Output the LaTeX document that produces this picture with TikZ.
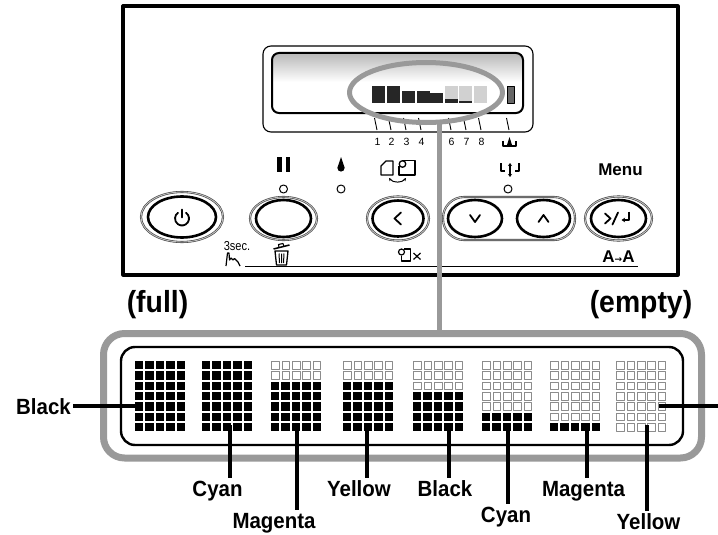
\documentclass[tikz,border=0pt]{standalone}
\usepackage{fontspec}
\setmainfont{Liberation Sans}
\newfontfamily\labfont[FakeStretch=0.93]{Liberation Sans}
\newfontfamily\smallcond[FakeStretch=0.85]{Liberation Sans}
\newfontfamily\djv{DejaVu Sans}
\usetikzlibrary{arrows.meta,calc,shapes.geometric}
\definecolor{ringgray}{gray}{0.6}
\definecolor{emptygray}{gray}{0.55}
\definecolor{bardark}{gray}{0.15}
\definecolor{barlight}{gray}{0.82}
\begin{document}
\begin{tikzpicture}[x=1pt,y=-1pt,line join=round,
  lab/.style={font=\labfont\bfseries\fontsize{22}{24}\selectfont, inner sep=2pt, text height=16pt, text depth=0pt},
  bigl/.style={font=\labfont\bfseries\fontsize{30.5}{34}\selectfont, inner sep=0pt, anchor=base},
  conn/.style={line width=3.3pt},
  connw/.style={line width=4.6pt},
  fullsq/.style={fill=black},
  emptysq/.style={draw=emptygray, line width=0.6pt},
  btnout/.style={draw=black!75, line width=0.6pt, double=black!25, double distance=0.9pt},
  btnin/.style={draw=black, line width=2.6pt},
  glyph/.style={line width=1.8pt, line cap=round},
  icon/.style={line width=1.3pt},
  gline/.style={draw=ringgray, line width=5pt},
]
\useasboundingbox (0,0) rectangle (718,535);
\fill[white] (0,0) rectangle (718,535);

% ---------- control panel ----------
\draw[line width=3.2pt] (123,6) rectangle (678,275);

% LCD
\draw[line width=1.1pt, rounded corners=8pt] (263,46) rectangle (533,132);
\begin{scope}
  \clip[rounded corners=7pt] (272,53) rectangle (523,113);
  \shade[top color=black!28, bottom color=white] (272,53) rectangle (523,82);
\end{scope}
\draw[line width=2pt, rounded corners=7pt] (272,53) rectangle (523,113);

% bars
\foreach \bx/\tp in {372/86,387/86,402/91,417/91,430/93.5}
  \fill[bardark] (\bx,\tp) rectangle (\bx+12.5,103.3);
\foreach \bx in {445,459,474}
  \fill[barlight] (\bx,86) rectangle (\bx+12.5,103.3);
\fill[bardark] (445,99) rectangle (457.5,103.3);
\fill[bardark] (459,101) rectangle (471.5,103.3);
\filldraw[fill=black!60, draw=black, line width=0.8pt] (507,86) rectangle (514,103.5);

% ticks and numbers
\foreach \tx/\lbl in {376/1,390/2,405/3,420/4,450/6,465/7,480/8}{
  \draw[line width=0.9pt] (\tx-1.5,118) -- (\tx+1,130);
  \node[font=\fontsize{10.5}{10.5}\selectfont, inner sep=0pt] at (\tx+1.5,141.5) {\lbl};
}
\draw[line width=0.9pt] (506.5,118) -- (509,130);
% maintenance tank symbol
\draw[line width=1.2pt] (503,140.5) -- (503,146) -- (516,146) -- (516,140.5);
\fill (509.5,137) -- (507,145) -- (512,145) -- cycle;

% icons row
\fill (277,157) rectangle (281.5,172);
\fill (285.5,157) rectangle (290,172);
\fill (341,157) -- (337.5,167.5) -- (344.5,167.5) -- cycle;
\fill (341,168) circle [radius=3.6];
% paper source icon
\draw[icon] (386,161) -- (393,161) -- (393,175) -- (381,175) -- (381,166) -- cycle;
\draw[icon] (402,160.5) -- (415,160.5) -- (415,175) -- (399,175) -- (399,166);
\draw[icon] (402.5,164) circle [radius=3.3];
\draw[line width=1pt, {Stealth[length=3pt,width=3pt]}-{Stealth[length=3pt,width=3pt]}] (389,178) .. controls (393,183) and (402,183) .. (406,178);
% cutter/feed icon
\draw[line width=1.4pt] (501,163) -- (501,171) -- (505,171);
\draw[line width=1.4pt] (519,163) -- (519,171) -- (515,171);
\draw[line width=1.2pt, {Stealth[length=3pt,width=4pt]}-{Stealth[length=3pt,width=4pt]}] (510,163) -- (510,177);
\node[font=\bfseries\fontsize{17}{17}\selectfont, inner sep=0pt] (menu) at (620.5,170) {Menu};

% LEDs
\foreach \lx in {283.5,341,508} \draw[line width=1pt] (\lx,189) circle [radius=4];

% buttons
\draw[btnout] (182,217) ellipse [x radius=41, y radius=25];
\draw[btnin] (182,217) ellipse [x radius=34, y radius=20.5];
\draw[glyph] (182,218.5) ++(-55:7) arc[start angle=-55, end angle=235, radius=7];
\draw[glyph] (182,209.5) -- (182,217.5);

\draw[btnout] (283.5,218.5) ellipse [x radius=33.5, y radius=21.5];
\draw[btnin] (283.5,218.5) ellipse [x radius=27.5, y radius=18.5];

\draw[btnout] (398,218.5) ellipse [x radius=31, y radius=22];
\draw[btnin] (398,218.5) ellipse [x radius=25.5, y radius=18];
\draw[glyph] (401,212.5) -- (394.5,218.5) -- (401,224.5);

\draw[btnout, rounded corners=21pt] (443,197) rectangle (575,240);
\draw[btnin] (475,218.5) ellipse [x radius=27, y radius=18.5];
\draw[btnin] (543.5,218.5) ellipse [x radius=26.5, y radius=18.5];
\draw[glyph] (470,215) -- (475,222) -- (480,215);
\draw[glyph] (538.5,222) -- (543.5,215) -- (548.5,222);

\draw[btnout] (618.5,218.5) ellipse [x radius=33.5, y radius=22];
\draw[btnin] (618.5,218.5) ellipse [x radius=27.5, y radius=18.5];
\draw[glyph] (605,213.5) -- (610.5,218.5) -- (605,223.5);
\draw[glyph] (612.5,224.5) -- (618,212.5);
\draw[line width=1.7pt, -{Stealth[length=3.5pt,width=4.5pt]}] (629,211.5) -- (629,220) -- (621.5,220);

% bottom row
\node[font=\smallcond\fontsize{13}{13}\selectfont, inner sep=0pt] (threesec) at (237,246) {3sec.};
\draw[line width=1.2pt] (226,266) -- (227.5,253) -- (229,253) -- (229.5,260) -- (231,258) -- (233,260) -- (234.5,258.5) -- (236.5,260.5) -- (238,262) -- (240,266);
% trash
\draw[icon] (275,251) -- (276.5,265) -- (286.5,265) -- (288,251) -- cycle;
\draw[line width=1pt] (279,253.5) -- (279.5,263) (281.5,253.5) -- (281.5,263) (284,253.5) -- (283.5,263);
\draw[line width=1.5pt] (273.5,249) -- (289.5,245);
\draw[line width=1.1pt] (279,247.5) -- (278.5,244.5) -- (283,243.5) -- (284,246.5);
% paper cut
\draw[line width=1.2pt] (401.5,252) circle [radius=3];
\draw[line width=1.2pt] (404,249) -- (410.5,249) -- (410.5,261) -- (401.5,261) -- (401.5,255.5);
\draw[line width=1.2pt] (413.5,253) -- (420.5,259.5) (413.5,259.5) -- (420.5,253);
\node[font=\bfseries\fontsize{17}{17}\selectfont, inner sep=0pt] (aa) at (618.5,256.5) {A{\djv\fontsize{9}{9}\selectfont →}A};
\draw[line width=1.3pt] (245,266.5) -- (638,266.5);

% ---------- enlarged display ----------
\node[draw=ringgray, line width=7pt, rounded corners=21pt, minimum width=598pt, minimum height=124.5pt, inner sep=0pt, rectangle] (bigframe) at (402.5,395.75) {};
\draw[line width=2.4pt, rounded corners=14pt] (121,347) rectangle (683,445);

\foreach \bx/\nemp in {135/0,202/0,271/2,343/2,413/3,482/5,550/6,616/7}{
  \foreach \c in {0,...,4}{
    \foreach \r in {0,...,6}{
      \ifnum\r<\nemp\relax
        \draw[emptysq] (\bx+\c*10.4+0.4,360.9+\r*10.33+0.4) rectangle ++(7.6,7.6);
      \else
        \fill[fullsq] (\bx+\c*10.4,360.9+\r*10.33) rectangle ++(8.4,8.4);
      \fi
    }
  }
}

% ring and grey connector
\node[draw=ringgray, line width=5pt, ellipse, minimum width=153pt, minimum height=60pt, inner sep=0pt] (ring) at (426,92.5) {};
\path (ring.center) ++(13,27.5) coordinate (gtop);
\draw[gline] (gtop) -- (gtop |- bigframe.north);

% titles
\node[bigl] (full) at (157.5,312.5) {(full)};
\node[bigl] (empty) at (641,312.5) {(empty)};

% labels
\node[lab, anchor=east] (blkA) at (73,406) {Black};
\node[lab, anchor=north] (cyanA) at (217.5,478) {Cyan};
\node[lab, anchor=north] (magA) at (274,510) {Magenta};
\node[lab, anchor=north] (yelA) at (359,478) {Yellow};
\node[lab, anchor=north] (blkB) at (445,478) {Black};
\node[lab, anchor=north] (cyanB) at (506,504) {Cyan};
\node[lab, anchor=north] (magB) at (583.5,478) {Magenta};
\node[lab, anchor=north] (yelB) at (648.5,511) {Yellow};

\coordinate (k1) at (139,406);
\coordinate (k2) at (230,425);
\coordinate (k3) at (297,425);
\coordinate (k4) at (367,425);
\coordinate (k5) at (449,425);
\coordinate (k6) at (508,425);
\coordinate (k7) at (587,425);
\coordinate (k8) at (647,425);
\coordinate (k9) at (659,406);
\coordinate (rend) at (718,406);

\draw[conn] (blkA) -- (k1);
\draw[conn] (k2) -- (k2 |- cyanA.north);
\draw[connw] (k3) -- (k3 |- magA.north);
\draw[conn] (k4) -- (k4 |- yelA.north);
\draw[conn] (k5) -- (k5 |- blkB.north);
\draw[connw] (k6) -- (k6 |- cyanB.north);
\draw[conn] (k7) -- (k7 |- magB.north);
\draw[connw] (k8) -- (k8 |- yelB.north);
\draw[conn] (k9) -- (rend);
\end{tikzpicture}
\end{document}
